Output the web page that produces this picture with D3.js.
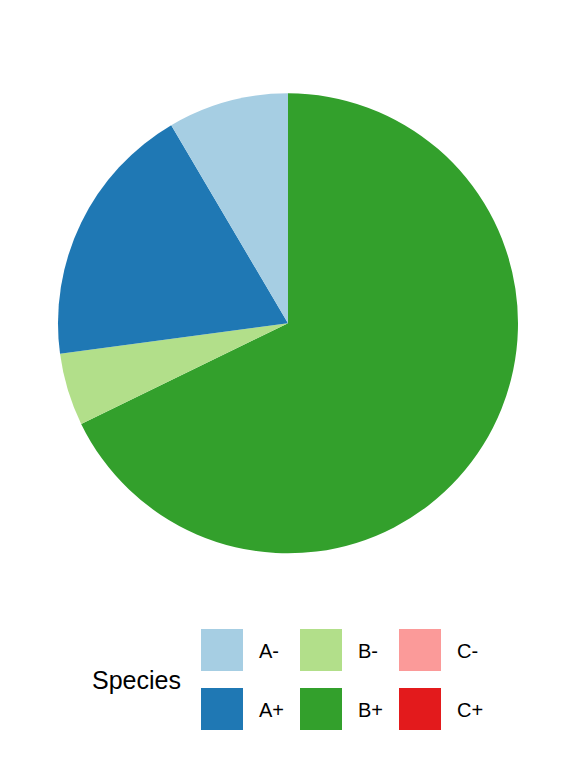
<!DOCTYPE html>
<html>
<head>
<meta charset="utf-8">
<script src="https://cdn.jsdelivr.net/npm/d3@7"></script>
<style>
  html, body { margin: 0; padding: 0; background: #fff; }
  svg { display: block; }
  text { font-family: "Liberation Sans", Arial, Helvetica, sans-serif; fill: #000; }
</style>
</head>
<body>
<script>
// Data
const categories = ["A-", "A+", "B-", "B+", "C-", "C+"];
const counts = [5, 11, 3, 40, 0, 0];
const colors = ["#a6cee3", "#1f78b4", "#b2df8a", "#33a02c", "#fb9a99", "#e31a1c"];
const legendTitle = "Species";

const W = 576, H = 768;
const cx = 288, cy = 323.3, R = 230;

const svg = d3.select("body").append("svg").attr("width", W).attr("height", H);

const color = d3.scaleOrdinal().domain(categories).range(colors);

const data = categories.map((c, i) => ({ cat: c, value: counts[i] }));
// ggplot stacks the last level first (starting at 12 o'clock, clockwise)
const ordered = data.slice().reverse();

const pie = d3.pie().sort(null).value(d => d.value).startAngle(0).endAngle(2 * Math.PI);
const arc = d3.arc().innerRadius(0).outerRadius(R);

svg.append("g")
  .attr("transform", `translate(${cx},${cy})`)
  .selectAll("path")
  .data(pie(ordered).filter(d => d.data.value > 0))
  .join("path")
  .attr("d", arc)
  .attr("fill", d => color(d.data.cat));

// Legend
const lg = svg.append("g");
lg.append("text").attr("x", 92).attr("y", 688.5).attr("font-size", 25).text(legendTitle);

const colX = d3.scaleBand().domain([0, 1, 2]).range([201, 498]);
const rowY = d3.scaleBand().domain([0, 1]).range([629, 747]);
const key = 42;

categories.forEach((c, i) => {
  const col = Math.floor(i / 2), row = i % 2;
  const x = colX(col), y = rowY(row);
  lg.append("rect").attr("x", x).attr("y", y).attr("width", key).attr("height", key)
    .attr("fill", color(c));
  lg.append("text").attr("x", x + 58).attr("y", y + 28.5).attr("font-size", 20).text(c);
});
</script>
</body>
</html>
